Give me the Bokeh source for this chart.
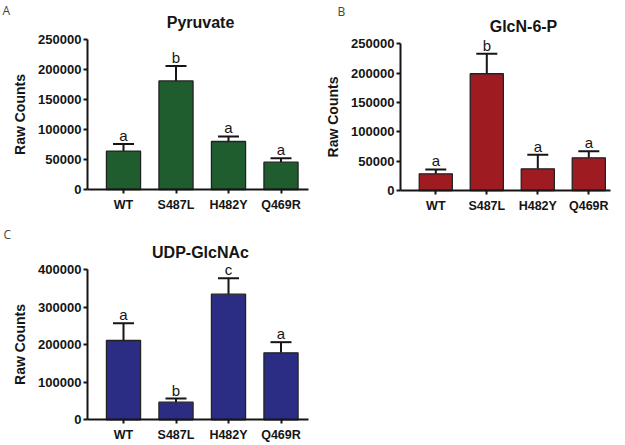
from bokeh.plotting import figure
from bokeh.models import (FixedTicker, Label, LabelSet, ColumnDataSource, NumeralTickFormatter,
                          Range1d, Whisker, TeeHead)
from bokeh.layouts import column, row
from bokeh.embed import file_html
from bokeh.resources import INLINE
from bokeh.core.properties import value

categories = ["WT", "S487L", "H482Y", "Q469R"]

pyruvate_mean = [64000, 181000, 80000, 45500]
pyruvate_err = [12000, 25000, 8500, 6500]
pyruvate_sig = ["a", "b", "a", "a"]

glcn6p_mean = [28400, 199000, 37000, 55700]
glcn6p_err = [7400, 34000, 23800, 11300]
glcn6p_sig = ["a", "b", "a", "a"]

udp_mean = [211500, 47000, 335000, 178700]
udp_err = [46000, 9800, 42600, 28300]
udp_sig = ["a", "b", "c", "a"]

ticks_ab = [0, 50000, 100000, 150000, 200000, 250000]
ticks_c = [0, 100000, 200000, 300000, 400000]

FONT = "Liberation Sans"
INK = "#151515"


def panel(title, letter, means, errs, sigs, color, ymax, yticks, geom):
    # geom: picture-pixel layout of the panel
    cl, ct, cw, ch = geom["canvas"]
    first, step = geom["first"], geom["step"]
    ax_l, ax_r = geom["xaxis"]
    y0, ytop = geom["yaxis"]
    ypp = ymax / (y0 - ytop)

    def dx(px):
        return (px - first) / step

    def dy(py):
        return (y0 - py) * ypp

    xs = list(range(len(categories)))
    src = ColumnDataSource(dict(
        x=xs, top=means, errtop=[m + e for m, e in zip(means, errs)], sig=sigs))
    p = figure(width=cw, height=ch, output_backend="svg", toolbar_location=None,
               x_range=Range1d(dx(cl), dx(cl + cw)), y_range=Range1d(dy(ct + ch), dy(ct)),
               min_border=0)
    p.min_border_left = p.min_border_right = p.min_border_top = p.min_border_bottom = 0
    p.outline_line_color = None
    p.xgrid.visible = False
    p.ygrid.visible = False

    p.vbar(x="x", top="top", width=0.65, bottom=0, source=src,
           fill_color=color, line_color="#222222", line_width=1.3)
    p.add_layout(Whisker(source=src, base="x", lower="top", upper="errtop",
                         line_color=INK, line_width=2,
                         upper_head=TeeHead(size=21, line_color=INK, line_width=2),
                         lower_head=None))
    p.add_layout(LabelSet(source=src, x="x", y="errtop", text="sig",
                          text_align="center", text_baseline="alphabetic", y_offset=3,
                          text_font=value(FONT), text_font_size=value("15px"),
                          text_color=INK))

    for ax in (p.xaxis[0], p.yaxis[0]):
        ax.axis_line_width = 2
        ax.axis_line_color = INK
        ax.major_tick_line_width = 2
        ax.major_tick_line_color = INK
        ax.major_tick_out = 4
        ax.major_tick_in = 0
        ax.minor_tick_out = 0
        ax.minor_tick_in = 0
        ax.major_label_text_font = FONT
        ax.major_label_text_font_style = "bold"
        ax.major_label_text_color = INK
    p.xaxis.fixed_location = 0
    p.xaxis.bounds = (dx(ax_l), dx(ax_r))
    p.xaxis.ticker = FixedTicker(ticks=xs)
    p.xaxis.major_label_overrides = {i: c for i, c in enumerate(categories)}
    p.xaxis.major_label_text_font_size = "12.5px"
    p.xaxis.major_label_standoff = 4
    p.yaxis.fixed_location = dx(ax_l)
    p.yaxis.bounds = (0, ymax)
    p.yaxis.ticker = FixedTicker(ticks=yticks)
    p.yaxis.formatter = NumeralTickFormatter(format="0")
    p.yaxis.major_label_text_font_size = "13px"
    p.yaxis.major_label_standoff = 2
    p.yaxis.axis_label = "Raw Counts"
    p.yaxis.axis_label_text_font = FONT
    p.yaxis.axis_label_text_font_style = "bold"
    p.yaxis.axis_label_text_font_size = "14px"
    p.yaxis.axis_label_text_color = INK
    p.yaxis.axis_label_standoff = 7

    tx, ty = geom["title"]
    p.add_layout(Label(x=dx(tx), y=dy(ty), text=title, text_align="center",
                       text_baseline="middle", text_font=FONT, text_font_size="16px",
                       text_font_style="bold", text_color=INK))
    lx, ly = geom["letter"]
    p.add_layout(Label(x=dx(lx), y=dy(ly), text=letter, text_align="left",
                       text_baseline="top", text_font="Open Sans", text_font_size="12px",
                       text_color="#444444"))
    return p


geom_a = dict(canvas=(0, 0, 312, 215), first=123, step=52.5, xaxis=(87, 308),
              yaxis=(189, 39), title=(200, 22), letter=(2, 1))
geom_b = dict(canvas=(312, 0, 312, 215), first=435.3, step=51, xaxis=(400, 610),
              yaxis=(190, 43.3), title=(523, 26), letter=(337, 2))
geom_c = dict(canvas=(0, 215, 312, 229), first=123, step=52.5, xaxis=(87, 308),
              yaxis=(419.3, 269.3), title=(200, 252.3), letter=(3, 225))

pA = panel("Pyruvate", "A", pyruvate_mean, pyruvate_err, pyruvate_sig, "#1f5d2f",
           250000, ticks_ab, geom_a)
pB = panel("GlcN-6-P", "B", glcn6p_mean, glcn6p_err, glcn6p_sig, "#9e1b22",
           250000, ticks_ab, geom_b)
pC = panel("UDP-GlcNAc", "C", udp_mean, udp_err, udp_sig, "#2b2d84",
           400000, ticks_c, geom_c)

layout = column(row(pA, pB), row(pC))
open("out.html", "w").write(file_html(layout, INLINE))
